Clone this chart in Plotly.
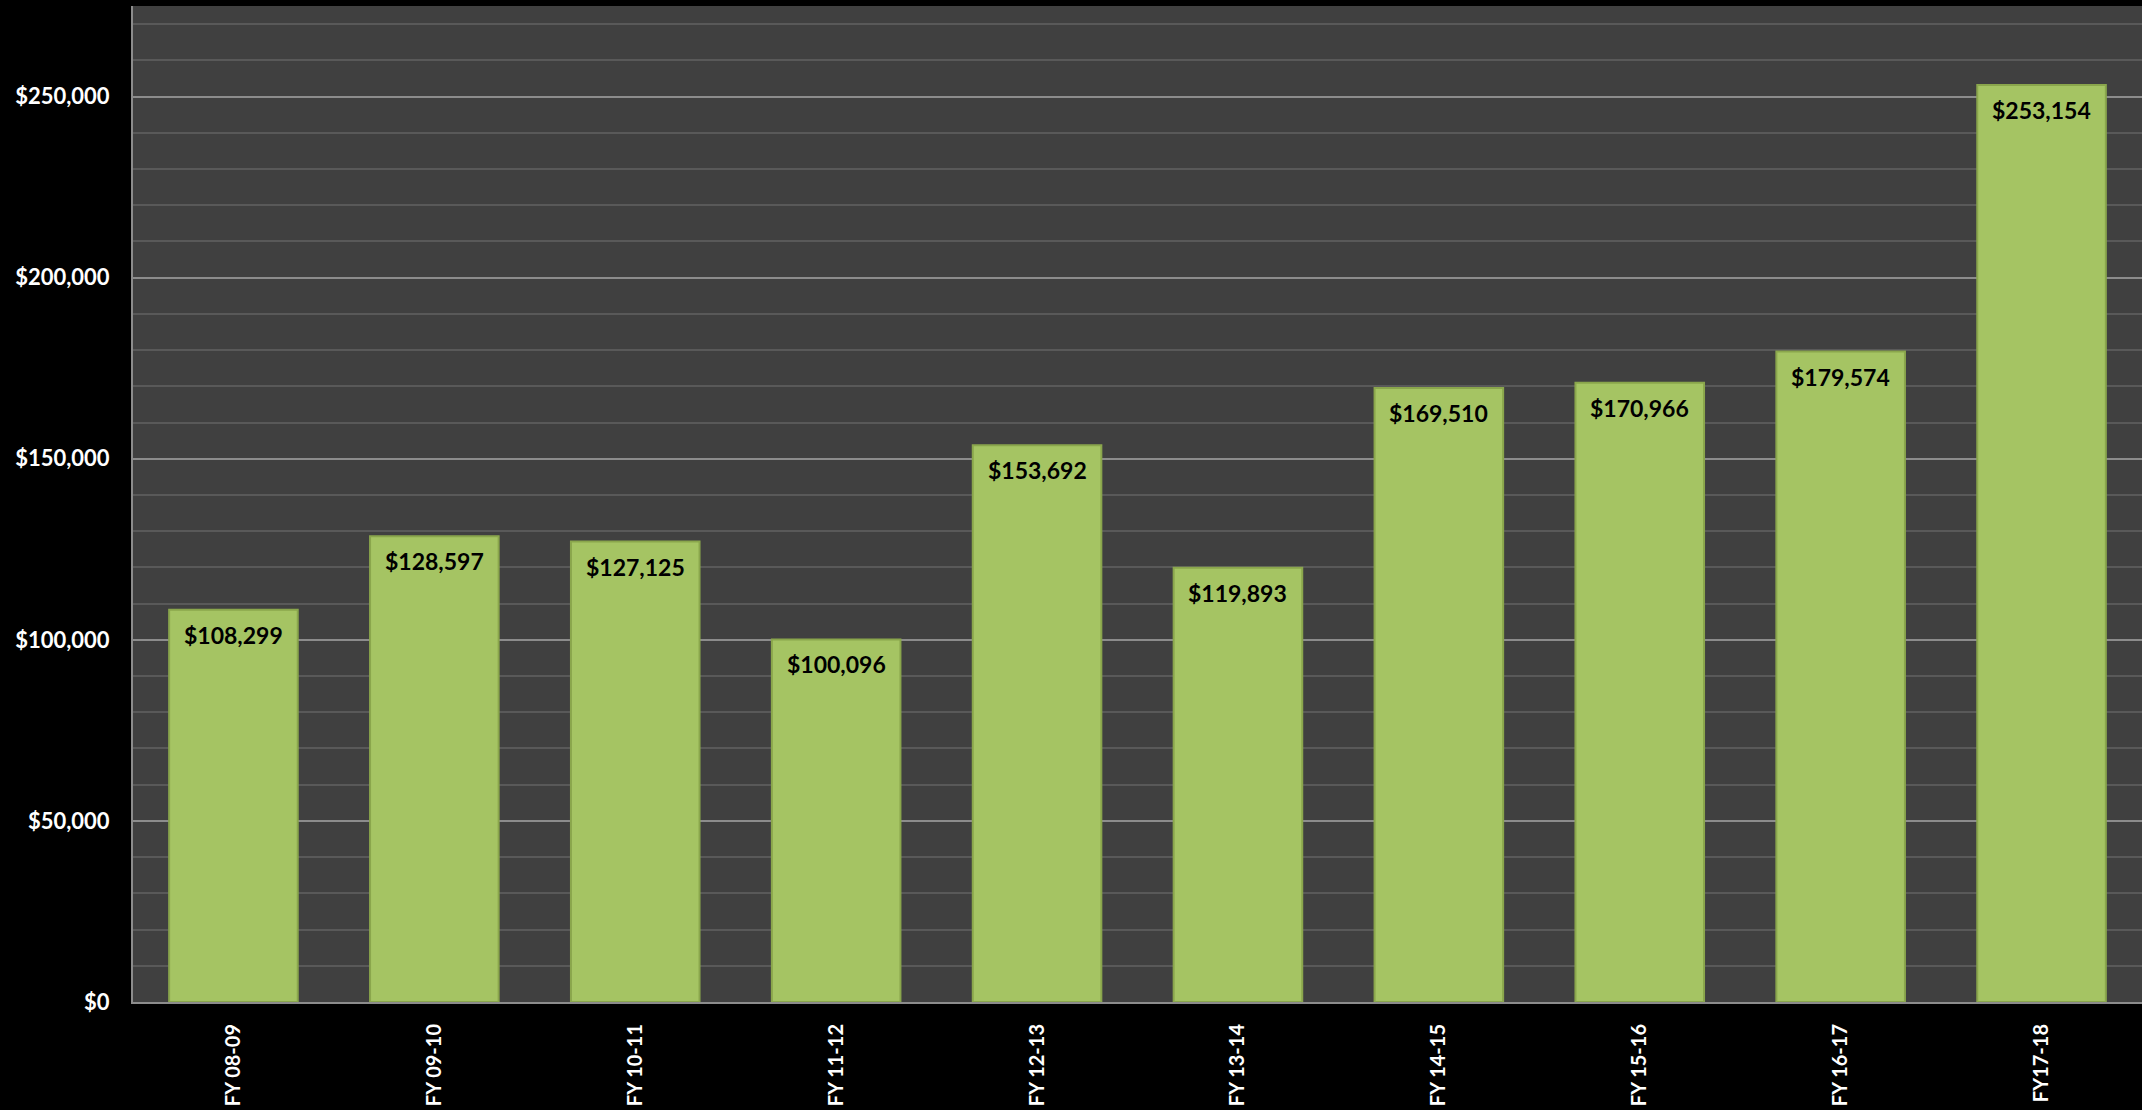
import plotly.graph_objects as go

categories = ["FY 08-09", "FY 09-10", "FY 10-11", "FY 11-12", "FY 12-13",
              "FY 13-14", "FY 14-15", "FY 15-16", "FY 16-17", "FY17-18"]
values = [108299, 128597, 127125, 100096, 153692, 119893, 169510, 170966, 179574, 253154]
y_ticks = [0, 50000, 100000, 150000, 200000, 250000]
y_tick_labels = ["$0", "$50,000", "$100,000", "$150,000", "$200,000", "$250,000"]

labels = ["${:,}".format(v) for v in values]

fig = go.Figure()
fig.add_trace(go.Bar(
    x=categories, y=values,
    marker=dict(color="#a5c463", line=dict(color="#8aa64c", width=2)),
    width=0.64,
    hoverinfo="skip",
))

for c, v, t in zip(categories, values, labels):
    fig.add_annotation(
        x=c, y=v, text=t, showarrow=False,
        yanchor="top", yshift=-9,
        font=dict(family="Lato", size=23, color="black", weight="bold"),
    )

fig.update_layout(
    width=2142, height=1110,
    paper_bgcolor="black", plot_bgcolor="#404040",
    margin=dict(l=133, r=0, t=6, b=108),
    showlegend=False,
    bargap=0.36,
    font=dict(family="Lato", color="white"),
)
fig.update_yaxes(
    range=[0, 275000],
    tickvals=y_ticks, ticktext=y_tick_labels,
    tickfont=dict(family="Lato", size=22, color="white", weight="bold"),
    gridcolor="#8c8c8c", gridwidth=2,
    minor=dict(dtick=10000, showgrid=True, gridcolor="#595959", gridwidth=2),
    showline=True, linecolor="#8c8c8c", linewidth=2,
    zeroline=False,
    ticks="outside", ticklen=17, tickcolor="rgba(0,0,0,0)",
)
fig.update_xaxes(
    tickangle=-90,
    tickfont=dict(family="Lato", size=20, color="white", weight="bold"),
    showline=True, linecolor="#8c8c8c", linewidth=2,
    ticks="outside", ticklen=12, tickcolor="rgba(0,0,0,0)",
    showgrid=False,
)

fig.write_html(
    "out.html",
    config={"displayModeBar": False},
    post_script="document.body.style.margin='0';document.body.style.overflow='hidden';document.body.style.background='black';",
)
